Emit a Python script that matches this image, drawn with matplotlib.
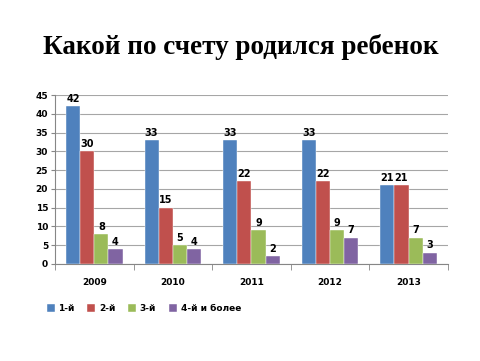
import numpy as np
import matplotlib.pyplot as plt

years = ['2009', '2010', '2011', '2012', '2013']
first = [42, 33, 33, 33, 21]
second = [30, 15, 22, 22, 21]
third = [8, 5, 9, 9, 7]
fourth = [4, 4, 2, 7, 3]
labels = ['1-й', '2-й', '3-й', '4-й и более']
colors = ['#4F81BD', '#C0504D', '#9BBB59', '#8064A2']

fig = plt.figure(figsize=(4.81, 3.61), dpi=100)
ax = fig.add_axes([0.1143, 0.2687, 0.8167, 0.4681])

x = np.arange(len(years))
w = 0.18
series = [first, second, third, fourth]
for i, (vals, lab, c) in enumerate(zip(series, labels, colors)):
    pos = x + (i - 1.5) * w
    ax.bar(pos, vals, w, color=c, label=lab, edgecolor='white', linewidth=0.3, zorder=3)
    for xp, v in zip(pos, vals):
        ax.text(xp, v + 0.6, str(v), ha='center', va='bottom', fontsize=7, fontweight='bold')

ax.set_ylim(0, 45)
ax.set_yticks(range(0, 46, 5))
ax.set_xlim(-0.5, len(years) - 0.5)
ax.set_xticks(x)
ax.set_xticklabels(years)
ax.set_xticks(np.arange(-0.5, len(years), 1), minor=True)
ax.tick_params(axis='x', which='major', length=0, pad=10, labelsize=6.5)
ax.tick_params(axis='x', which='minor', length=4, color='#868686')
ax.tick_params(axis='y', length=3, color='#868686', labelsize=6.5, pad=2)
for t in ax.get_xticklabels() + ax.get_yticklabels():
    t.set_fontweight('bold')
ax.grid(axis='y', color='#A6A6A6', linewidth=0.8, zorder=0)
for s in ['top', 'right']:
    ax.spines[s].set_visible(False)
ax.spines['left'].set_color('#868686')
ax.spines['bottom'].set_color('#868686')

fig.text(0.5, 0.87, 'Какой по счету родился ребенок', ha='center', va='center',
         fontsize=19.5, fontweight='bold', family='Liberation Serif')

fig.legend(loc='center left', bbox_to_anchor=(0.08, 0.145), ncol=4, frameon=False,
           prop={'size': 6.5, 'weight': 'bold'}, handlelength=0.9, handleheight=0.9,
           handletextpad=0.4, columnspacing=1.4)

plt.savefig('out.png')
